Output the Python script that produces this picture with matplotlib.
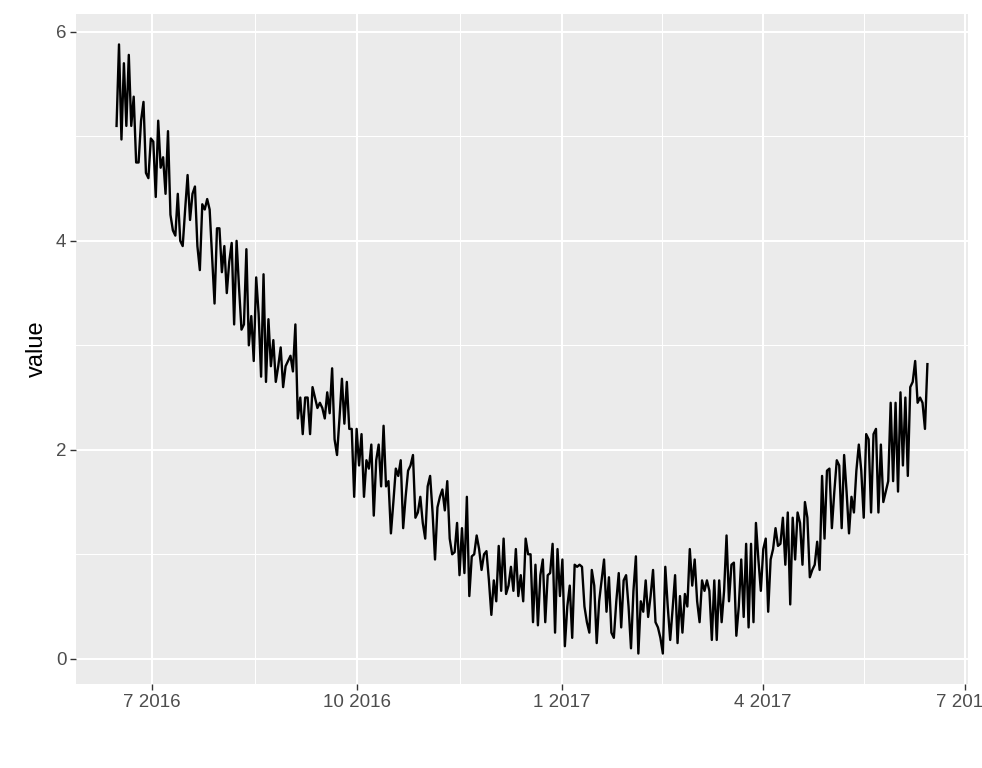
import matplotlib
matplotlib.use("Agg")
import matplotlib.pyplot as plt
import matplotlib.dates as mdates
import numpy as np
import pandas as pd

plt.rcParams["font.family"] = ["Liberation Sans", "DejaVu Sans"]

# daily series
start_date = "2016-06-15"
end_date = "2017-06-14"
values = [
    5.10, 5.88, 4.97, 5.70, 5.10, 5.78, 5.10, 5.38, 4.75, 4.75, 5.15, 5.33,
    4.65, 4.60, 4.98, 4.95, 4.42, 5.15, 4.70, 4.80, 4.45, 5.05, 4.25, 4.10,
    4.05, 4.45, 4.00, 3.95, 4.30, 4.63, 4.20, 4.45, 4.52, 3.95, 3.72, 4.35,
    4.30, 4.40, 4.30, 3.85, 3.40, 4.12, 4.12, 3.70, 3.95, 3.50, 3.80, 3.98,
    3.20, 4.00, 3.55, 3.15, 3.20, 3.92, 3.00, 3.28, 2.85, 3.65, 3.30, 2.70,
    3.68, 2.65, 3.25, 2.80, 3.05, 2.65, 2.80, 2.98, 2.60, 2.80, 2.85, 2.90,
    2.75, 3.20, 2.30, 2.50, 2.15, 2.50, 2.50, 2.15, 2.60, 2.50, 2.40, 2.45,
    2.40, 2.30, 2.55, 2.35, 2.78, 2.10, 1.95, 2.30, 2.68, 2.25, 2.65, 2.20,
    2.20, 1.55, 2.20, 1.85, 2.15, 1.55, 1.90, 1.82, 2.05, 1.37, 1.90, 2.05,
    1.65, 2.23, 1.65, 1.70, 1.20, 1.50, 1.82, 1.75, 1.90, 1.25, 1.55, 1.80,
    1.85, 1.95, 1.35, 1.40, 1.55, 1.30, 1.15, 1.65, 1.75, 1.40, 0.95, 1.45,
    1.55, 1.62, 1.42, 1.70, 1.15, 1.00, 1.02, 1.30, 0.80, 1.25, 0.82, 1.55,
    0.60, 0.98, 1.00, 1.18, 1.05, 0.85, 1.00, 1.03, 0.75, 0.42, 0.75, 0.55,
    1.08, 0.65, 1.15, 0.62, 0.70, 0.88, 0.65, 1.05, 0.60, 0.80, 0.55, 1.15,
    1.00, 1.00, 0.35, 0.90, 0.32, 0.80, 0.95, 0.35, 0.80, 0.82, 1.10, 0.25,
    1.05, 0.60, 0.95, 0.12, 0.50, 0.70, 0.20, 0.90, 0.88, 0.90, 0.88, 0.50,
    0.35, 0.25, 0.85, 0.70, 0.15, 0.55, 0.75, 0.95, 0.45, 0.78, 0.25, 0.20,
    0.55, 0.82, 0.30, 0.75, 0.80, 0.50, 0.10, 0.65, 0.98, 0.05, 0.55, 0.45,
    0.75, 0.40, 0.60, 0.85, 0.35, 0.30, 0.20, 0.05, 0.88, 0.50, 0.18, 0.48,
    0.80, 0.15, 0.60, 0.25, 0.62, 0.50, 1.05, 0.70, 0.95, 0.55, 0.35, 0.75,
    0.65, 0.75, 0.65, 0.18, 0.75, 0.18, 0.75, 0.35, 0.65, 1.18, 0.55, 0.90,
    0.92, 0.22, 0.50, 0.95, 0.40, 1.10, 0.30, 1.10, 0.35, 1.30, 0.95, 0.65,
    1.05, 1.15, 0.45, 0.95, 1.05, 1.25, 1.08, 1.10, 1.35, 0.90, 1.40, 0.52,
    1.35, 0.95, 1.40, 1.30, 0.90, 1.50, 1.35, 0.78, 0.85, 0.90, 1.12, 0.85,
    1.75, 1.15, 1.80, 1.82, 1.25, 1.60, 1.90, 1.85, 1.25, 1.95, 1.60, 1.20,
    1.55, 1.40, 1.80, 2.05, 1.80, 1.35, 2.15, 2.10, 1.40, 2.15, 2.20, 1.40,
    2.05, 1.50, 1.60, 1.70, 2.45, 1.70, 2.45, 1.60, 2.55, 1.85, 2.50, 1.75,
    2.60, 2.65, 2.85, 2.45, 2.50, 2.45, 2.20, 2.82,
]
y_ticks = [0, 2, 4, 6]
y_minor = [1, 3, 5]
x_tick_dates = ["2016-07-01", "2016-10-01", "2017-01-01", "2017-04-01", "2017-07-01"]

dates = pd.date_range(start_date, end_date, periods=len(values))

fig = plt.figure(figsize=(9.82, 7.68), dpi=100)
ax = fig.add_axes([0.0774, 0.1094, 0.9083, 0.8724])
ax.set_facecolor("#EBEBEB")
for s in ax.spines.values():
    s.set_visible(False)

ax.plot(dates, values, color="black", lw=1.7, zorder=3)

# limits with ggplot-style 5% expansion
xn = mdates.date2num(dates)
xpad = (xn[-1] - xn[0]) * 0.05
ax.set_xlim(xn[0] - xpad, xn[-1] + xpad)
vmin, vmax = min(values), max(values)
ypad = (vmax - vmin) * 0.05
ax.set_ylim(vmin - ypad, vmax + ypad)

major = mdates.date2num(pd.to_datetime(x_tick_dates))
minor = (major[:-1] + major[1:]) / 2
ax.set_xticks(major)
ax.set_xticklabels([f"{d.month} {d.year}" for d in pd.to_datetime(x_tick_dates)])
ax.set_xticks(minor, minor=True)
ax.set_yticks(y_ticks)
ax.set_yticks(y_minor, minor=True)

ax.grid(which="major", color="white", lw=1.5, zorder=0)
ax.grid(which="minor", color="white", lw=0.75, zorder=0)
ax.set_axisbelow(True)

ax.tick_params(which="major", length=4, width=1, color="#333333",
               labelcolor="#4D4D4D", labelsize=13.5, pad=3)
ax.tick_params(which="minor", length=0)
ax.set_ylabel("value", fontsize=17, color="black", labelpad=6)

fig.savefig("out.png", dpi=100)
